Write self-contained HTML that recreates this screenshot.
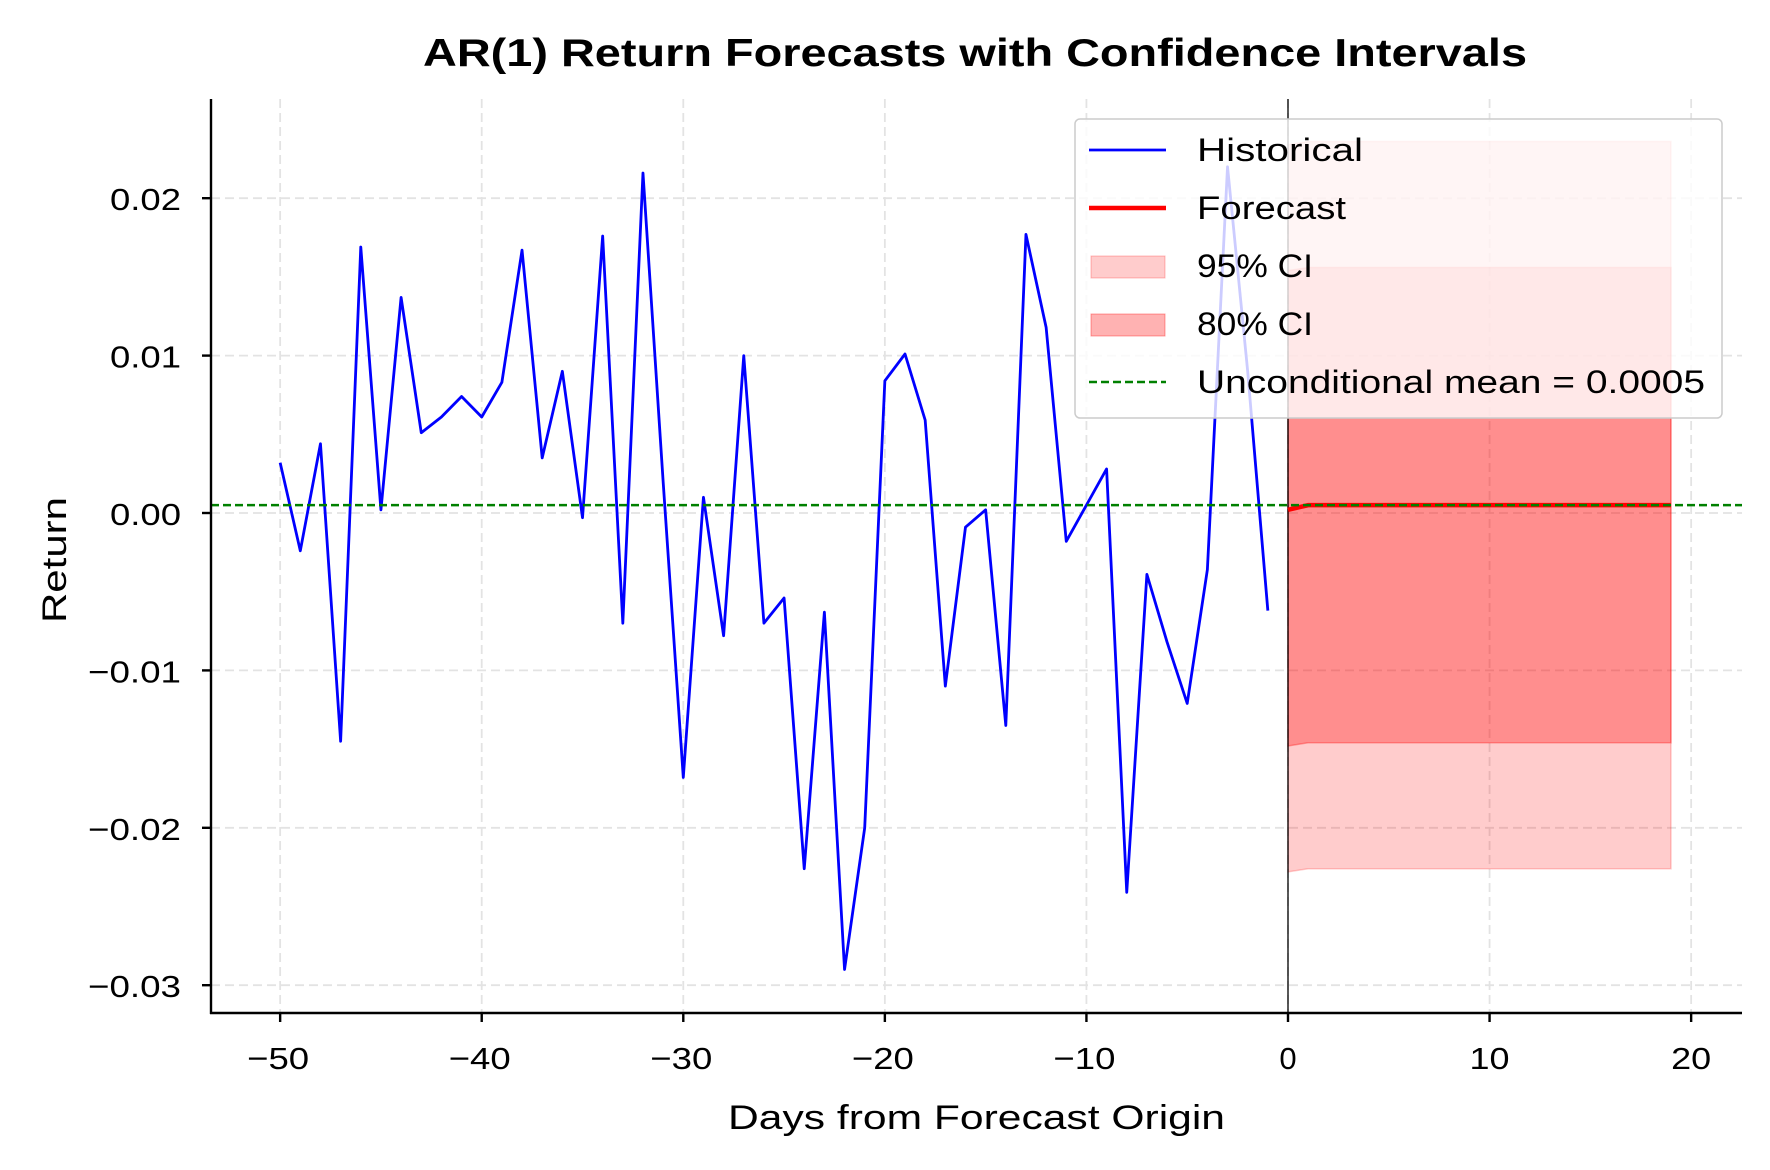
<!DOCTYPE html>
<html><head><meta charset="utf-8"><style>
html,body{margin:0;padding:0;background:#fff;}
svg{display:block;font-family:"Liberation Sans","DejaVu Sans",sans-serif;}
</style></head><body>
<svg id="s" width="1770" height="1170" viewBox="0 0 1770 1170" xmlns="http://www.w3.org/2000/svg">
<rect width="1770" height="1170" fill="#fff"/>
<g id="grid" stroke="#e3e3e3" stroke-width="1.8" stroke-dasharray="9,5"></g>
<g id="plot"></g>
<g id="axes" stroke="#000" stroke-width="2.4"></g>
<g id="lab" font-size="31" fill="#000"></g>
<text x="423" y="66" textLength="1104" lengthAdjust="spacingAndGlyphs" font-size="39" font-weight="bold">AR(1) Return Forecasts with Confidence Intervals</text>
<text x="728" y="1129" textLength="497" lengthAdjust="spacingAndGlyphs" font-size="34">Days from Forecast Origin</text>
<text transform="translate(66,623) rotate(-90)" textLength="126" lengthAdjust="spacingAndGlyphs" font-size="34">Return</text>
<g>
<rect x="1075" y="119" width="647" height="299" rx="5" fill="#fff" fill-opacity="0.8" stroke="#cccccc" stroke-width="1.5"/>
<line x1="1089" y1="150" x2="1166" y2="150" stroke="#0000ff" stroke-width="2.7"/>
<line x1="1089" y1="208" x2="1166" y2="208" stroke="#ff0000" stroke-width="4.5"/>
<rect x="1091" y="256" width="74" height="22" fill="#ff0000" fill-opacity="0.2" stroke="#ff0000" stroke-opacity="0.25"/>
<rect x="1091" y="314" width="74" height="22" fill="#ff0000" fill-opacity="0.3" stroke="#ff0000" stroke-opacity="0.35"/>
<line x1="1089" y1="382" x2="1166" y2="382" stroke="#008000" stroke-width="2.5" stroke-dasharray="8,4"/>
<g font-size="32">
<text x="1197" y="161" textLength="166" lengthAdjust="spacingAndGlyphs">Historical</text>
<text x="1197" y="219" textLength="149" lengthAdjust="spacingAndGlyphs">Forecast</text>
<text x="1197" y="277" textLength="116" lengthAdjust="spacingAndGlyphs">95% CI</text>
<text x="1197" y="335" textLength="116" lengthAdjust="spacingAndGlyphs">80% CI</text>
<text x="1197" y="393" textLength="508" lengthAdjust="spacingAndGlyphs">Unconditional mean = 0.0005</text>
</g>
</g>
</svg>
<script>
var NS="http://www.w3.org/2000/svg";
function X(d){return 1288+d*20.157;}
function Y(v){return 513-v*15740;}
function el(p,t,a){var e=document.createElementNS(NS,t);for(var k in a)e.setAttribute(k,a[k]);document.getElementById(p).appendChild(e);return e;}
var L=211,R=1742,T=99,B=1013;
for(var d=-50;d<=20;d+=10){el("grid","line",{x1:X(d),x2:X(d),y1:T,y2:B});}
for(var v=-3;v<=2;v++){el("grid","line",{x1:L,x2:R,y1:Y(v/100),y2:Y(v/100)});}
var n=20,u95=[],l95=[],u80=[],l80=[],f=[];
for(var i=0;i<n;i++){var m=i==0?0.0002:0.0005;f.push([X(i),Y(m)]);
u95.push([X(i),Y(i==0?0.0234:0.0236)]);l95.push([X(i),Y(i==0?-0.0228:-0.0226)]);
u80.push([X(i),Y(i==0?0.0154:0.0156)]);l80.push([X(i),Y(i==0?-0.0148:-0.0146)]);}
function poly(a,b){return a.concat(b.slice().reverse()).map(function(p){return p.join(",")}).join(" ");}
el("plot","polygon",{points:poly(u95,l95),fill:"#ff0000","fill-opacity":"0.2",stroke:"#ff0000","stroke-opacity":"0.2","stroke-width":"1.5"});
el("plot","polygon",{points:poly(u80,l80),fill:"#ff0000","fill-opacity":"0.3",stroke:"#ff0000","stroke-opacity":"0.3","stroke-width":"1.5"});
var h=[0.0032,-0.0024,0.0044,-0.0145,0.0169,0.0002,0.0137,0.0051,0.0061,0.0074,0.0061,0.0083,0.0167,0.0035,0.0090,-0.0003,0.0176,-0.0070,0.0216,0.0020,-0.0168,0.0010,-0.0078,0.0100,-0.0070,-0.0054,-0.0226,-0.0063,-0.0290,-0.0200,0.0084,0.0101,0.0059,-0.0110,-0.0009,0.0002,-0.0135,0.0177,0.0118,-0.0018,0.0005,0.0028,-0.0241,-0.0039,-0.0082,-0.0121,-0.0036,0.0220,0.0090,-0.0062];
el("plot","polyline",{points:h.map(function(v,i){return X(i-50)+","+Y(v)}).join(" "),fill:"none",stroke:"#0000ff","stroke-width":"2.8","stroke-linejoin":"round"});
el("plot","line",{x1:X(0),x2:X(0),y1:T,y2:B,stroke:"#000","stroke-width":"1.3"});
el("plot","polyline",{points:f.map(function(p){return p.join(",")}).join(" "),fill:"none",stroke:"#ff0000","stroke-width":"4.5"});
el("plot","line",{x1:L,x2:R,y1:Y(0.0005),y2:Y(0.0005),stroke:"#008000","stroke-width":"2.4","stroke-dasharray":"8,4"});
el("axes","line",{x1:L,x2:L,y1:T,y2:B+1});
el("axes","line",{x1:L-1,x2:R,y1:B,y2:B});
for(var d=-50;d<=20;d+=10){el("axes","line",{x1:X(d),x2:X(d),y1:B,y2:B+9});
var t;
if(d==0){t=el("lab","text",{x:X(d),y:1069,"text-anchor":"middle"});}
else{var w=d<0?62:40;t=el("lab","text",{x:X(d)-w/2-(d<0?2:0),y:1069,textLength:w,lengthAdjust:"spacingAndGlyphs"});}
t.textContent=(d<0?"\u2212":"")+Math.abs(d);}
for(var v=-3;v<=2;v++){el("axes","line",{x1:L-9,x2:L,y1:Y(v/100),y2:Y(v/100)});
var w=v<0?93:71;
var t=el("lab","text",{x:181-w,y:Y(v/100)+12,textLength:w,lengthAdjust:"spacingAndGlyphs"});t.textContent=v==0?"0.00":(v<0?"\u2212":"")+"0.0"+Math.abs(v);}
</script>
</body></html>
